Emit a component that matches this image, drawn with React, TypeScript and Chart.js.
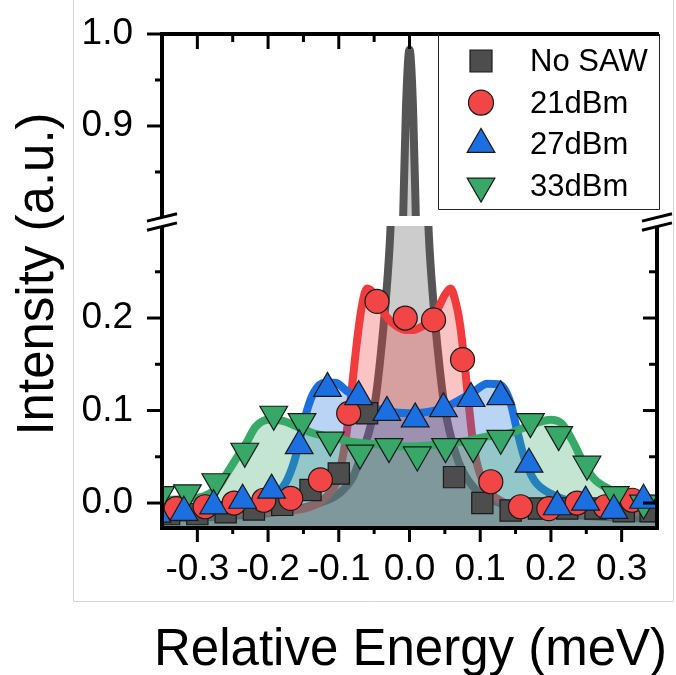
import React, { useEffect, useRef } from 'react';
import { Chart, registerables } from 'chart.js';

// ---------------- data ----------------
const SERIES_LABELS = ['No SAW', '21dBm', '27dBm', '33dBm'];

const X_TICKS = [-0.3, -0.2, -0.1, 0.0, 0.1, 0.2, 0.3];
const X_MINOR = [-0.25, -0.15, -0.05, 0.05, 0.15, 0.25];
const Y_TICKS_LOW = [0.0, 0.1, 0.2];
const Y_MINOR_LOW = [0.05, 0.15, 0.25];
const Y_TICKS_HIGH = [0.9, 1.0];
const Y_MINOR_HIGH = [0.85, 0.95];

// measured points (markers)
const NOSAW_X = [-0.340, -0.300, -0.260, -0.220, -0.180, -0.140, -0.100, -0.060, -0.017, 0.023, 0.063, 0.103, 0.143, 0.183, 0.223, 0.263, 0.303, 0.341];
const NOSAW_Y = [-0.012, -0.012, -0.010, -0.007, -0.002, 0.014, 0.032, 0.097, 0.550, 0.420, 0.028, 0.000, -0.008, -0.006, -0.006, -0.006, -0.009, -0.009];

const RED_X = [-0.330, -0.289, -0.248, -0.206, -0.168, -0.126, -0.086, -0.046, -0.006, 0.034, 0.075, 0.115, 0.157, 0.197, 0.237, 0.277, 0.315];
const RED_Y = [-0.006, -0.004, 0.000, 0.003, 0.005, 0.025, 0.097, 0.218, 0.200, 0.198, 0.155, 0.023, -0.004, -0.006, 0.000, -0.004, 0.003];

const BLUE_X = [-0.357, -0.319, -0.277, -0.236, -0.195, -0.156, -0.116, -0.072, -0.032, 0.008, 0.048, 0.087, 0.129, 0.169, 0.209, 0.249, 0.289, 0.331];
const BLUE_Y = [-0.012, -0.010, -0.003, 0.003, 0.014, 0.062, 0.124, 0.115, 0.098, 0.091, 0.102, 0.113, 0.115, 0.042, -0.004, 0.001, -0.008, 0.003];

const GREEN_X = [-0.352, -0.314, -0.274, -0.233, -0.192, -0.152, -0.112, -0.070, -0.029, 0.011, 0.051, 0.090, 0.129, 0.171, 0.211, 0.251, 0.291, 0.331];
const GREEN_Y = [0.009, 0.011, 0.023, 0.056, 0.096, 0.088, 0.068, 0.054, 0.061, 0.052, 0.061, 0.061, 0.070, 0.088, 0.074, 0.042, 0.009, 0.000];

// fitted curves
const NOSAW_FIT_X = [-0.35, -0.30, -0.25, -0.20, -0.15, -0.12, -0.10, -0.08, -0.069, -0.053, -0.047, -0.041, -0.034, -0.027, -0.020, -0.014, -0.009, -0.005, 0.0, 0.005, 0.009, 0.014, 0.020, 0.027, 0.034, 0.041, 0.047, 0.053, 0.069, 0.08, 0.10, 0.12, 0.15, 0.20, 0.25, 0.30, 0.35];
const NOSAW_FIT_Y = [-0.017, -0.016, -0.014, -0.011, -0.005, 0.002, 0.010, 0.028, 0.050, 0.090, 0.118, 0.158, 0.215, 0.295, 0.450, 0.650, 0.800, 0.920, 0.983, 0.920, 0.800, 0.650, 0.450, 0.295, 0.215, 0.158, 0.118, 0.090, 0.045, 0.028, 0.010, 0.002, -0.005, -0.011, -0.014, -0.016, -0.017];

const RED_FIT_X = [-0.35, -0.25, -0.18, -0.14, -0.12, -0.105, -0.097, -0.09, -0.085, -0.08, -0.075, -0.068, -0.06, -0.05, -0.04, -0.025, -0.01, 0.0, 0.01, 0.025, 0.04, 0.05, 0.058, 0.066, 0.072, 0.078, 0.084, 0.09, 0.097, 0.11, 0.13, 0.16, 0.25, 0.35];
const RED_FIT_Y = [-0.010, -0.010, -0.009, -0.004, 0.005, 0.020, 0.040, 0.070, 0.100, 0.135, 0.170, 0.210, 0.232, 0.226, 0.210, 0.195, 0.188, 0.187, 0.188, 0.195, 0.210, 0.225, 0.232, 0.215, 0.190, 0.150, 0.105, 0.065, 0.038, 0.015, 0.002, -0.006, -0.010, -0.010];

const BLUE_FIT_X = [-0.35, -0.25, -0.21, -0.19, -0.175, -0.163, -0.153, -0.145, -0.135, -0.12, -0.105, -0.09, -0.06, -0.03, 0.0, 0.03, 0.06, 0.09, 0.11, 0.128, 0.143, 0.152, 0.162, 0.176, 0.20, 0.24, 0.35];
const BLUE_FIT_Y = [-0.006, -0.004, 0.000, 0.008, 0.022, 0.045, 0.075, 0.100, 0.120, 0.130, 0.130, 0.122, 0.106, 0.099, 0.097, 0.099, 0.107, 0.120, 0.129, 0.128, 0.108, 0.079, 0.050, 0.025, 0.010, 0.000, -0.005];

const GREEN_FIT_X = [-0.35, -0.31, -0.289, -0.27, -0.26, -0.245, -0.23, -0.218, -0.20, -0.18, -0.16, -0.138, -0.11, -0.08, -0.04, 0.0, 0.04, 0.08, 0.11, 0.14, 0.17, 0.20, 0.215, 0.23, 0.245, 0.26, 0.28, 0.31, 0.35];
const GREEN_FIT_Y = [0.003, 0.005, 0.008, 0.018, 0.030, 0.048, 0.066, 0.082, 0.090, 0.089, 0.083, 0.076, 0.071, 0.066, 0.063, 0.061, 0.063, 0.067, 0.072, 0.075, 0.084, 0.090, 0.086, 0.068, 0.045, 0.027, 0.016, 0.009, 0.004];

// ---------------- styles ----------------
const FONT = "'Liberation Sans', Arial, Helvetica, sans-serif";
const COL = {
  nosawLine: 'rgb(85,85,85)', nosawFill: 'rgba(85,85,85,0.3)', nosawMarker: '#4d4d4d',
  redLine: 'rgb(240,60,60)', redFill: 'rgba(240,60,60,0.3)', redMarker: '#f24545',
  blueLine: 'rgb(28,112,222)', blueFill: 'rgba(28,112,222,0.3)', blueMarker: '#1c6fe0',
  greenLine: 'rgb(56,170,104)', greenFill: 'rgba(56,170,104,0.3)', greenMarker: '#37a868',
  markerBorder: '#1a1a1a',
};

// clip each dataset (fill + line + points) to its own y-scale band
const scaleClip = {
  id: 'scaleClip',
  beforeDatasetDraw(chart: any, args: any) {
    const meta = args.meta;
    const xs = meta.xScale, ys = meta.yScale;
    if (!xs || !ys) return;
    const ctx = chart.ctx;
    ctx.save();
    ctx.beginPath();
    ctx.rect(xs.left, ys.top, xs.right - xs.left, ys.bottom - ys.top);
    ctx.clip();
    meta._bandClip = true;
  },
  afterDatasetDraw(chart: any, args: any) {
    if (args.meta._bandClip) {
      chart.ctx.restore();
      args.meta._bandClip = false;
    }
  },
};
Chart.register(scaleClip as any);
Chart.register(...registerables);

const pts = (xs: number[], ys: number[]) => xs.map((x, i) => ({ x, y: ys[i] }));

function drawShape(ctx: CanvasRenderingContext2D, kind: string, x: number, y: number, fill: string) {
  ctx.beginPath();
  if (kind === 'rect') {
    ctx.rect(x - 11, y - 11, 22, 22);
  } else if (kind === 'circle') {
    ctx.arc(x, y, 12.5, 0, Math.PI * 2);
  } else if (kind === 'up') {
    const r = 16;
    ctx.moveTo(x, y - r);
    ctx.lineTo(x + r * 0.866, y + r / 2);
    ctx.lineTo(x - r * 0.866, y + r / 2);
    ctx.closePath();
  } else {
    const r = 16;
    ctx.moveTo(x, y + r);
    ctx.lineTo(x + r * 0.866, y - r / 2);
    ctx.lineTo(x - r * 0.866, y - r / 2);
    ctx.closePath();
  }
  ctx.fillStyle = fill;
  ctx.fill();
  ctx.lineWidth = 1.2;
  ctx.strokeStyle = COL.markerBorder;
  ctx.stroke();
}

const noPad = (s: any) => {
  s.paddingTop = 0;
  s.paddingBottom = 0;
  s.paddingLeft = 0;
  s.paddingRight = 0;
};

export default function App() {
  const ref = useRef<HTMLCanvasElement>(null);

  useEffect(() => {
    const canvas = ref.current;
    if (!canvas) return;

    const decor = {
      id: 'decor',
      beforeDraw(chart: any) {
        const ctx = chart.ctx;
        ctx.save();
        ctx.fillStyle = '#fff';
        ctx.fillRect(0, 0, chart.width, chart.height);
        ctx.strokeStyle = '#d4d4d4';
        ctx.lineWidth = 1;
        ctx.beginPath();
        ctx.moveTo(73.5, 0);
        ctx.lineTo(73.5, 601.5);
        ctx.lineTo(673.5, 601.5);
        ctx.lineTo(673.5, 0);
        ctx.stroke();
        ctx.restore();
      },
      afterDatasetsDraw(chart: any) {
        const ctx: CanvasRenderingContext2D = chart.ctx;
        const xs = chart.scales.x, yl = chart.scales.yLow, yh = chart.scales.yHigh;
        const L = xs.left, R = xs.right, T = yh.top, B = yl.bottom;
        const brk = (yh.bottom + yl.top) / 2;
        const seg = (x1: number, y1: number, x2: number, y2: number) => {
          ctx.beginPath();
          ctx.moveTo(x1, y1);
          ctx.lineTo(x2, y2);
          ctx.stroke();
        };
        ctx.save();
        // white gap of the broken axis
        ctx.fillStyle = '#fff';
        ctx.fillRect(L + 2, brk - 5, R - L - 4, 10);

        // axis lines
        ctx.strokeStyle = '#000';
        ctx.lineCap = 'butt';
        ctx.lineWidth = 4;
        seg(L, T - 2, L, B + 2);
        seg(L - 2, B, R + 2, B);
        seg(L - 2, T, R + 2, T);
        seg(R, brk - 4, R, B + 2);

        // ticks
        ctx.lineWidth = 3;
        X_TICKS.forEach((v) => {
          const p = xs.getPixelForValue(v);
          seg(p, B, p, B + 14);
          seg(p, T, p, T + 15);
        });
        X_MINOR.forEach((v) => {
          const p = xs.getPixelForValue(v);
          seg(p, B, p, B + 6);
          seg(p, T, p, T + 8);
        });
        Y_TICKS_LOW.forEach((v) => {
          const p = yl.getPixelForValue(v);
          seg(L - 15, p, L, p);
          seg(R, p, R - 14, p);
        });
        Y_MINOR_LOW.forEach((v) => {
          const p = yl.getPixelForValue(v);
          seg(L - 7, p, L, p);
          seg(R, p, R - 8, p);
        });
        Y_TICKS_HIGH.forEach((v) => {
          const p = yh.getPixelForValue(v);
          seg(L - 15, p, L, p);
        });
        Y_MINOR_HIGH.forEach((v) => {
          const p = yh.getPixelForValue(v);
          seg(L - 7, p, L, p);
        });

        // break marks
        const breakMark = (cx: number, cy: number) => {
          const hw = 15, sl = 3.7, off = 4.6;
          ctx.fillStyle = '#fff';
          ctx.beginPath();
          ctx.moveTo(cx - hw, cy - off + sl);
          ctx.lineTo(cx + hw, cy - off - sl);
          ctx.lineTo(cx + hw, cy + off - sl);
          ctx.lineTo(cx - hw, cy + off + sl);
          ctx.closePath();
          ctx.fill();
          ctx.lineWidth = 3;
          seg(cx - hw, cy - off + sl, cx + hw, cy - off - sl);
          seg(cx - hw, cy + off + sl, cx + hw, cy + off - sl);
        };
        breakMark(L, brk + 1);
        breakMark(R, brk + 1);

        // legend
        const lx0 = 438, lx1 = 659, ly1 = 209;
        ctx.fillStyle = '#fff';
        ctx.fillRect(lx0, T + 2, lx1 - lx0 + 1, ly1 - T - 2);
        ctx.strokeStyle = '#222';
        ctx.lineWidth = 1;
        ctx.beginPath();
        ctx.moveTo(lx0 + 0.5, T);
        ctx.lineTo(lx0 + 0.5, ly1 + 0.5);
        ctx.lineTo(lx1 + 0.5, ly1 + 0.5);
        ctx.lineTo(lx1 + 0.5, T);
        ctx.stroke();
        const shapes = ['rect', 'circle', 'up', 'down'];
        const fills = [COL.nosawMarker, COL.redMarker, COL.blueMarker, COL.greenMarker];
        SERIES_LABELS.forEach((lab, i) => {
          const cy = 61 + 41.7 * i;
          drawShape(ctx, shapes[i], 481, cy, fills[i]);
          ctx.fillStyle = '#000';
          ctx.font = `31px ${FONT}`;
          ctx.textAlign = 'left';
          ctx.textBaseline = 'middle';
          ctx.fillText(lab, 530, cy + 1.5);
        });

        // axis titles
        ctx.fillStyle = '#000';
        ctx.font = `51px ${FONT}`;
        ctx.textBaseline = 'alphabetic';
        ctx.textAlign = 'left';
        ctx.fillText('Relative Energy (meV)', 154, 665);
        ctx.translate(53, 274);
        ctx.rotate(-Math.PI / 2);
        ctx.textAlign = 'center';
        ctx.fillText('Intensity (a.u.)', 0, 0);
        ctx.restore();
      },
    };

    const fitCommon = {
      type: 'line',
      xAxisID: 'x',
      borderWidth: 8,
      pointRadius: 0,
      cubicInterpolationMode: 'monotone',
      borderJoinStyle: 'round',
      borderCapStyle: 'round',
    };
    const markCommon = {
      type: 'line',
      xAxisID: 'x',
      yAxisID: 'yLow',
      showLine: false,
      pointBorderColor: COL.markerBorder,
      pointBorderWidth: 1.2,
    };

    const chart = new Chart(canvas, {
      type: 'line',
      data: {
        datasets: [
          // markers (drawn last => on top)
          { ...markCommon, label: SERIES_LABELS[2], data: pts(BLUE_X, BLUE_Y), pointStyle: 'triangle', pointRadius: 16, pointBackgroundColor: COL.blueMarker, order: 1 },
          { ...markCommon, label: SERIES_LABELS[3], data: pts(GREEN_X, GREEN_Y), pointStyle: 'triangle', pointRotation: 180, pointRadius: 16, pointBackgroundColor: COL.greenMarker, order: 2 },
          { ...markCommon, label: SERIES_LABELS[1], data: pts(RED_X, RED_Y), pointStyle: 'circle', pointRadius: 12, pointBackgroundColor: COL.redMarker, order: 3 },
          { ...markCommon, label: SERIES_LABELS[0], data: pts(NOSAW_X, NOSAW_Y), pointStyle: 'rect', pointRadius: 15, pointBackgroundColor: COL.nosawMarker, order: 4 },
          // fits
          { ...fitCommon, label: SERIES_LABELS[3] + ' fit', yAxisID: 'yLow', data: pts(GREEN_FIT_X, GREEN_FIT_Y), borderColor: COL.greenLine, backgroundColor: COL.greenFill, fill: 'start', order: 11 },
          { ...fitCommon, label: SERIES_LABELS[2] + ' fit', yAxisID: 'yLow', data: pts(BLUE_FIT_X, BLUE_FIT_Y), borderColor: COL.blueLine, backgroundColor: COL.blueFill, fill: 'start', order: 12 },
          { ...fitCommon, label: SERIES_LABELS[1] + ' fit', yAxisID: 'yLow', data: pts(RED_FIT_X, RED_FIT_Y), borderColor: COL.redLine, backgroundColor: COL.redFill, fill: 'start', order: 13 },
          { ...fitCommon, label: SERIES_LABELS[0] + ' fit', yAxisID: 'yLow', data: pts(NOSAW_FIT_X, NOSAW_FIT_Y), borderColor: COL.nosawLine, backgroundColor: COL.nosawFill, fill: 'start', order: 14 },
          { ...fitCommon, label: SERIES_LABELS[0] + ' fit (top)', yAxisID: 'yHigh', data: pts(NOSAW_FIT_X, NOSAW_FIT_Y), borderColor: COL.nosawLine, backgroundColor: COL.nosawFill, fill: { target: 'start', above: COL.nosawFill, below: 'rgba(0,0,0,0)' }, order: 15 },
        ] as any,
      },
      options: {
        responsive: false,
        animation: false,
        devicePixelRatio: 1,
        events: [],
        layout: { padding: { left: 0, top: 34, right: 19, bottom: 0 } },
        plugins: { legend: { display: false }, tooltip: { enabled: false } },
        scales: {
          x: {
            type: 'linear',
            position: 'bottom',
            min: -0.35,
            max: 0.35,
            afterFit: (s: any) => { s.height = 147; noPad(s); },
            afterBuildTicks: (s: any) => { s.ticks = X_TICKS.map((v) => ({ value: v })); },
            grid: { display: false },
            border: { display: false },
            ticks: {
              autoSkip: false, maxRotation: 0, minRotation: 0, padding: 12, color: '#000',
              font: { family: FONT, size: 37 },
              callback: (v: any) => Number(v).toFixed(1),
            },
          },
          yLow: {
            type: 'linear',
            position: 'left',
            stack: 'y',
            stackWeight: 307,
            min: -0.027,
            max: 0.3049,
            afterFit: (s: any) => { s.width = 162; noPad(s); },
            afterBuildTicks: (s: any) => { s.ticks = Y_TICKS_LOW.map((v) => ({ value: v })); },
            grid: { display: false },
            border: { display: false },
            ticks: { padding: 21, color: '#000', font: { family: FONT, size: 37 }, callback: (v: any) => Number(v).toFixed(1) },
          },
          yHigh: {
            type: 'linear',
            position: 'left',
            stack: 'y',
            stackWeight: 187,
            min: 0.7967,
            max: 1.0,
            afterFit: (s: any) => { s.width = 162; noPad(s); },
            afterBuildTicks: (s: any) => { s.ticks = Y_TICKS_HIGH.map((v) => ({ value: v })); },
            grid: { display: false },
            border: { display: false },
            ticks: { padding: 21, color: '#000', font: { family: FONT, size: 37 }, callback: (v: any) => Number(v).toFixed(1) },
          },
        },
      } as any,
      plugins: [decor as any],
    });

    return () => chart.destroy();
  }, []);

  return (
    <div style={{ position: 'absolute', left: 0, top: 0, width: 676, height: 675, background: '#fff' }}>
      <canvas ref={ref} width={676} height={675} style={{ display: 'block', width: 676, height: 675 }} />
    </div>
  );
}
